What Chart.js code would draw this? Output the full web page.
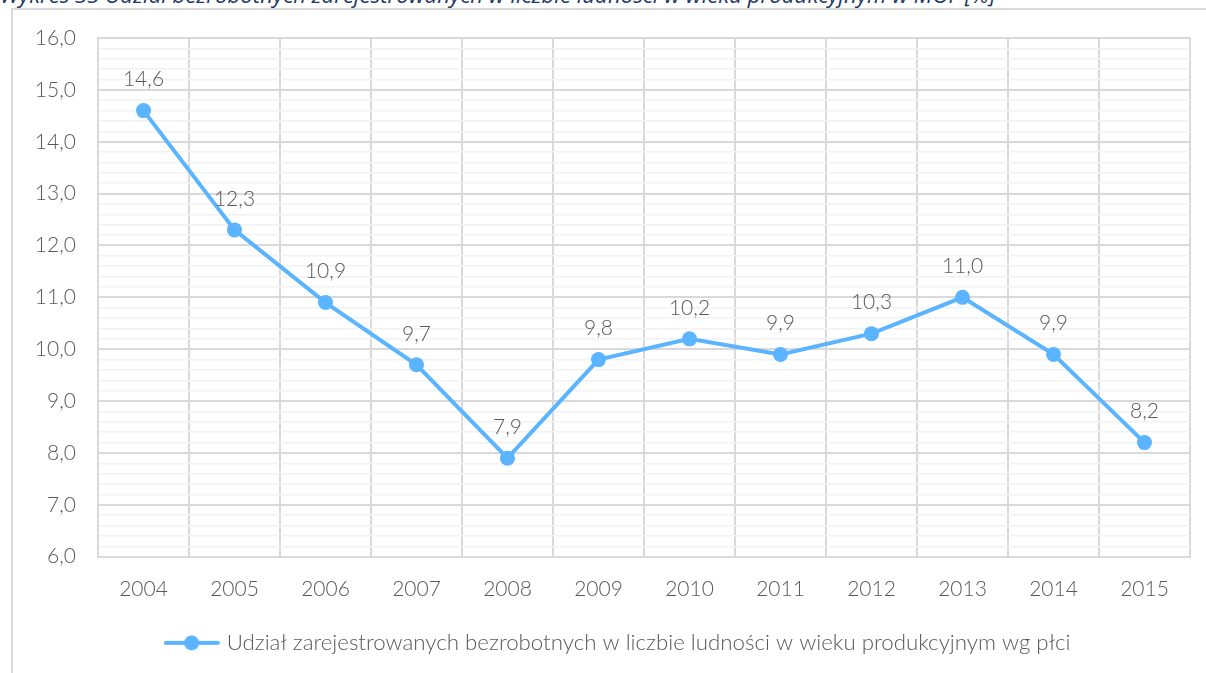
<!DOCTYPE html>
<html lang="pl">
<head>
<meta charset="utf-8">
<title>Wykres 33</title>
<script src="https://cdn.jsdelivr.net/npm/chart.js@4/dist/chart.umd.min.js"></script>
<style>
  html, body { margin: 0; padding: 0; background: #fff; overflow: hidden; }
  #wrap { position: relative; width: 1206px; height: 673px; overflow: hidden; }
  #title {
    position: absolute; left: 0; top: -18.5px; white-space: nowrap;
    font-family: "Open Sans", sans-serif; font-style: italic; font-size: 22.2px;
    color: #1F3864; line-height: 26px;
  }
  #frame {
    position: absolute; left: 11px; top: 8px; width: 1300px; height: 800px;
    border: 2px solid #D9D9D9; box-sizing: border-box;
  }
  #chart { position: absolute; left: 0; top: 0; }
</style>
</head>
<body>
<div id="wrap">
  <div id="title">Wykres 33 Udział bezrobotnych zarejestrowanych w liczbie ludności w wieku produkcyjnym w MOF [%]</div>
  <div id="frame"></div>
  <canvas id="chart" width="1206" height="673"></canvas>
</div>
<script>
// Years on the category axis
const years = ['2004', '2005', '2006', '2007', '2008', '2009', '2010', '2011', '2012', '2013', '2014', '2015'];
// Share of registered unemployed in working-age population [%]
const unemploymentShare = [14.6, 12.3, 10.9, 9.7, 7.9, 9.8, 10.2, 9.9, 10.3, 11.0, 9.9, 8.2];
const seriesLabel = 'Udział zarejestrowanych bezrobotnych w liczbie ludności w wieku produkcyjnym wg płci';
// Value axis range
const yMin = 6;
const yMax = 16;

const FONT = 'Lato, "Open Sans", sans-serif';
const TEXT = '#595959';
const BLUE = '#5BB4FF';

const fmt = v => v.toFixed(1).replace('.', ',');

// Legend symbol: a short line with a dot in the middle
function legendSymbol() {
  const c = document.createElement('canvas');
  c.width = 56; c.height = 18;
  const g = c.getContext('2d');
  g.strokeStyle = BLUE; g.lineWidth = 4; g.lineCap = 'round';
  g.beginPath(); g.moveTo(2, 9); g.lineTo(54, 9); g.stroke();
  g.fillStyle = BLUE;
  g.beginPath(); g.arc(28, 9, 7.5, 0, Math.PI * 2); g.fill();
  return c;
}

// Value labels drawn above each point
const valueLabels = {
  id: 'valueLabels',
  afterDatasetsDraw(chart) {
    const { ctx } = chart;
    const meta = chart.getDatasetMeta(0);
    ctx.save();
    ctx.font = '300 21px ' + FONT;
    ctx.fillStyle = TEXT;
    ctx.textAlign = 'center';
    ctx.textBaseline = 'middle';
    meta.data.forEach((pt, i) => {
      ctx.fillText(fmt(unemploymentShare[i]), pt.x, pt.y - 31);
    });
    ctx.restore();
  }
};

// Centre the legend under the plot area rather than the whole canvas
const legendShift = {
  id: 'legendShift',
  afterLayout(chart) {
    const lg = chart.legend;
    if (!lg) return;
    const dx = 24;
    lg.left += dx;
    lg.right += dx;
  }
};

const isWhole = v => Math.abs(v - Math.round(v)) < 1e-6;

new Chart(document.getElementById('chart'), {
  type: 'line',
  data: {
    labels: years,
    datasets: [{
      label: seriesLabel,
      data: unemploymentShare,
      borderColor: BLUE,
      backgroundColor: BLUE,
      borderWidth: 4,
      pointRadius: 7.5,
      pointHoverRadius: 7.5,
      pointBackgroundColor: BLUE,
      pointBorderWidth: 0,
      tension: 0,
      pointStyle: 'circle'
    }]
  },
  options: {
    responsive: false,
    animation: false,
    events: [],
    layout: { padding: { left: 0, right: 16, top: 38, bottom: 9 } },
    plugins: {
      tooltip: { enabled: false },
      legend: {
        position: 'bottom',
        labels: {
          usePointStyle: true,
          pointStyle: legendSymbol(),
          pointStyleWidth: 48,
          color: TEXT,
          font: { family: FONT, size: 22.3, weight: '300' },
          padding: 10
        }
      }
    },
    scales: {
      x: {
        offset: true,
        grid: { offset: true, color: '#D9D9D9', lineWidth: 2, drawTicks: false },
        border: { display: true, color: '#D9D9D9', width: 2 },
        ticks: { color: TEXT, font: { family: FONT, size: 21, weight: '300' }, padding: 20, maxRotation: 0 },
        afterFit(scale) { scale.height = 65; }
      },
      y: {
        min: yMin,
        max: yMax,
        grid: {
          color: ctx => isWhole(ctx.tick.value) ? '#D9D9D9' : '#F2F2F2',
          lineWidth: ctx => isWhole(ctx.tick.value) ? 2 : 1.5,
          drawTicks: false
        },
        border: { display: true, color: '#D9D9D9', width: 2 },
        ticks: {
          stepSize: 0.2,
          autoSkip: false,
          color: TEXT,
          font: { family: FONT, size: 21, weight: '300' },
          padding: 22,
          callback: v => isWhole(v) ? fmt(Math.round(v)) : ''
        },
        afterFit(scale) { scale.width = 98; }
      }
    }
  },
  plugins: [valueLabels, legendShift]
});
</script>
</body>
</html>
